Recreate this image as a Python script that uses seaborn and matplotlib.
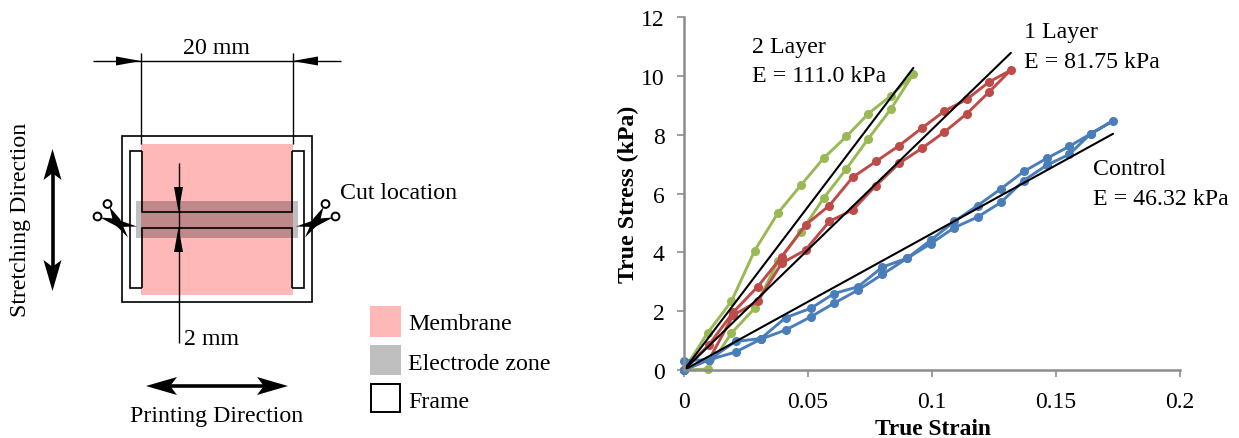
import matplotlib
matplotlib.use('Agg')
import matplotlib.pyplot as plt
import matplotlib.patches as mp
import seaborn as sb
import pandas as pd

# strain / stress, loading then unloading
control_x = [0, 0.0101, 0.0208, 0.031, 0.041, 0.0512, 0.0605, 0.0702, 0.08, 0.09, 0.0996, 0.109, 0.1184,
             0.1278, 0.137, 0.1462, 0.1553, 0.164, 0.173, 0.164, 0.1553, 0.1462, 0.137, 0.1278, 0.1184,
             0.109, 0.0996, 0.09, 0.08, 0.0702, 0.0605, 0.0512, 0.041, 0.031, 0.0208, 0.0101, 0]
control_y = [0, 0.35, 0.61, 1.05, 1.36, 1.81, 2.27, 2.72, 3.25, 3.8, 4.3, 4.84, 5.2,
             5.7, 6.44, 6.96, 7.33, 8.03, 8.47, 8.03, 7.6, 7.19, 6.75, 6.16, 5.59,
             5.05, 4.42, 3.8, 3.5, 2.83, 2.6, 2.1, 1.78, 1.07, 0.97, 0.35, 0.32]
layer1_x = [0, 0.0101, 0.0199, 0.0297, 0.0394, 0.049, 0.0586, 0.068, 0.0774, 0.0868, 0.096, 0.105, 0.114,
            0.123, 0.1317, 0.123, 0.114, 0.105, 0.096, 0.0868, 0.0774, 0.068, 0.0586, 0.049, 0.0394,
            0.0297, 0.0199, 0.0101, 0]
layer1_y = [0, 0.35, 1.87, 2.33, 3.63, 4.08, 5.05, 5.44, 6.27, 7.03, 7.54, 8.09, 8.71,
            9.45, 10.19, 9.79, 9.2, 8.8, 8.23, 7.63, 7.09, 6.55, 5.59, 4.93, 3.85,
            2.83, 1.97, 0.86, 0]
layer2_x = [0, 0.0095, 0.0191, 0.0285, 0.0379, 0.0472, 0.0563, 0.0655, 0.0743, 0.0835, 0.0925, 0.0835,
            0.0743, 0.0655, 0.0563, 0.0472, 0.0379, 0.0285, 0.0191, 0.0095, 0]
layer2_y = [0, 0.03, 1.25, 2.1, 3.7, 4.7, 5.84, 6.84, 7.86, 8.88, 10.07, 9.33,
            8.71, 7.94, 7.2, 6.29, 5.34, 4.06, 2.33, 1.26, 0]
fit_names = ['Control', '1 Layer', '2 Layer']
fit_end_x = [0.173, 0.1318, 0.0925]
fit_end_y = [8.03, 10.78, 10.27]

x_ticks = [0, 0.05, 0.1, 0.15, 0.2]
x_tick_labels = ['0', '0.05', '0.1', '0.15', '0.2']
y_ticks = [0, 2, 4, 6, 8, 10, 12]

W, H = 1239, 439
SERIF = 'Liberation Serif'
sb.set_style('white')
plt.rcParams['font.family'] = SERIF
plt.rcParams['text.color'] = 'black'

fig = plt.figure(figsize=(W / 100, H / 100), dpi=100)

# schematic on the left is drawn in pixel coordinates of the figure
sk = fig.add_axes([0, 0, 1, 1])
sk.set_xlim(0, W)
sk.set_ylim(H, 0)
sk.axis('off')


def rect(x0, y0, x1, y1, **kw):
    sk.add_patch(mp.Rectangle((x0, y0), x1 - x0, y1 - y0, **kw))


def line(xs, ys, lw=1.0):
    sk.plot(xs, ys, color='black', lw=lw, solid_capstyle='butt', solid_joinstyle='miter')


def head(tip, base, half, vertical=False, notch=0):
    # notch pulls the back of the head towards the tip, for the big barbed arrows
    if vertical:
        back = base + (tip[1] - base) * notch
        pts = [tip, (tip[0] - half, base), (tip[0], back), (tip[0] + half, base)]
    else:
        back = base + (tip[0] - base) * notch
        pts = [tip, (base, tip[1] - half), (back, tip[1]), (base, tip[1] + half)]
    sk.add_patch(mp.Polygon(pts, closed=True, fc='black', ec='none', zorder=5))


def scissors(mirror=False):
    m = (lambda x: 433 - x) if mirror else (lambda x: x)
    sk.add_patch(mp.Polygon([(m(100), 218.5), (m(114), 219.5), (m(137), 227.5), (m(118), 228)],
                            fc='black', ec='none', zorder=6))
    sk.add_patch(mp.Polygon([(m(109.5), 208), (m(120), 220), (m(128), 238.5), (m(113.5), 224)],
                            fc='black', ec='none', zorder=6))
    for cx, cy in [(107.5, 205), (97.5, 217.5)]:
        sk.add_patch(mp.Circle((m(cx), cy), 3.9, fc='white', ec='black', lw=1.4, zorder=7))


rect(122, 137, 311.5, 303, fc='none', ec='black', lw=1.2)
rect(141, 145, 292.5, 296, fc='#ffb8b8', ec='none')
rect(136, 202, 298, 239, fc='black', ec='none', alpha=0.25)
line([141.5, 129.5, 129.5, 141.5], [152, 152, 289, 289], lw=1.2)
line([292, 304, 304, 292], [152, 152, 289, 289], lw=1.2)
line([141.5, 141.5, 292, 292], [152, 213, 213, 152], lw=1.2)
line([141.5, 141.5, 292, 292], [289, 228.5, 228.5, 289], lw=1.2)

line([141, 141], [54, 145])
line([292.5, 292.5], [54, 145])
line([93, 341], [62, 62])
head((141, 62), 116, 4.5)
head((292.5, 62), 318, 4.5)
line([178.5, 178.5], [164, 344])
head((178.5, 213), 188, 4.5, vertical=True)
head((178.5, 228.5), 253, 4.5, vertical=True)

line([52.5, 52.5], [170, 272], lw=2.6)
head((52.5, 150), 181, 9, vertical=True, notch=0.22)
head((52.5, 292), 261, 9, vertical=True, notch=0.22)
line([170, 264], [387, 387], lw=2.6)
head((146, 387), 177, 9, notch=0.22)
head((288, 387), 257, 9, notch=0.22)
scissors()
scissors(mirror=True)

fs = 17.2
sk.text(216.5, 48, '20 mm', fontsize=fs, ha='center', va='center')
sk.text(184, 340, '2 mm', fontsize=fs, ha='left', va='center')
sk.text(21, 220, 'Stretching Direction', fontsize=fs, rotation=90, ha='center', va='center')
sk.text(217, 417, 'Printing Direction', fontsize=fs, ha='center', va='center')
sk.text(340, 194, 'Cut location', fontsize=fs, ha='left', va='center')

rect(370, 307, 400.5, 337.5, fc='#ffb8b8', ec='none')
rect(370, 346, 400.5, 376, fc='#bfbfbf', ec='none')
rect(371, 385, 400, 413.5, fc='white', ec='black', lw=1.4)
sk.text(408, 325, 'Membrane', fontsize=fs, ha='left', va='center')
sk.text(408, 365, 'Electrode zone', fontsize=fs, ha='left', va='center')
sk.text(408, 403, 'Frame', fontsize=fs, ha='left', va='center')

# stress strain chart
ax = fig.add_axes([684 / W, 1 - 371 / H, (1180 - 684) / W, (371 - 18) / H])
ax.patch.set_alpha(0)
curves = [(layer2_x, layer2_y, '#98b954'), (layer1_x, layer1_y, '#be4b48'), (control_x, control_y, '#4a7ebb')]
for xs, ys, col in curves:
    data = pd.DataFrame({'strain': xs, 'stress': ys})
    sb.lineplot(data=data, x='strain', y='stress', sort=False, estimator=None, color=col, lw=2.1,
                marker='o', markersize=6.5, markeredgewidth=0, ax=ax, clip_on=False)
for name, ex, ey in zip(fit_names, fit_end_x, fit_end_y):
    data = pd.DataFrame({'strain': [0, ex], 'stress': [0, ey]})
    sb.lineplot(data=data, x='strain', y='stress', sort=False, estimator=None, color='black', lw=1.5, ax=ax)

ax.set_xlim(0, 0.2)
ax.set_ylim(0, 12)
ax.set_xticks(x_ticks, x_tick_labels)
ax.set_yticks(y_ticks)
ax.tick_params(direction='out', length=5, width=1.2, color='#8c8c8c', labelcolor='black', labelsize=17,
               left=True, bottom=True)
ax.tick_params(axis='x', pad=10)
ax.tick_params(axis='y', pad=9)
sb.despine(ax=ax)
for s in ['left', 'bottom']:
    ax.spines[s].set_color('#8c8c8c')
    ax.spines[s].set_linewidth(1.8)
ax.set_xlabel('')
ax.set_ylabel('')

sk.text(933, 430, 'True Strain', fontsize=16.9, fontweight='bold', ha='center', va='center')
sk.text(628, 194.5, 'True Stress (kPa)', fontsize=17.2, fontweight='bold', rotation=90, ha='center', va='center')
sk.text(752, 62, '2 Layer\nE = 111.0 kPa', fontsize=fs, ha='left', va='center', linespacing=1.55)
sk.text(1024, 47.5, '1 Layer\nE = 81.75 kPa', fontsize=fs, ha='left', va='center', linespacing=1.55)
sk.text(1093, 184.5, 'Control\nE = 46.32 kPa', fontsize=fs, ha='left', va='center', linespacing=1.55)

fig.savefig('out.png', dpi=100)
